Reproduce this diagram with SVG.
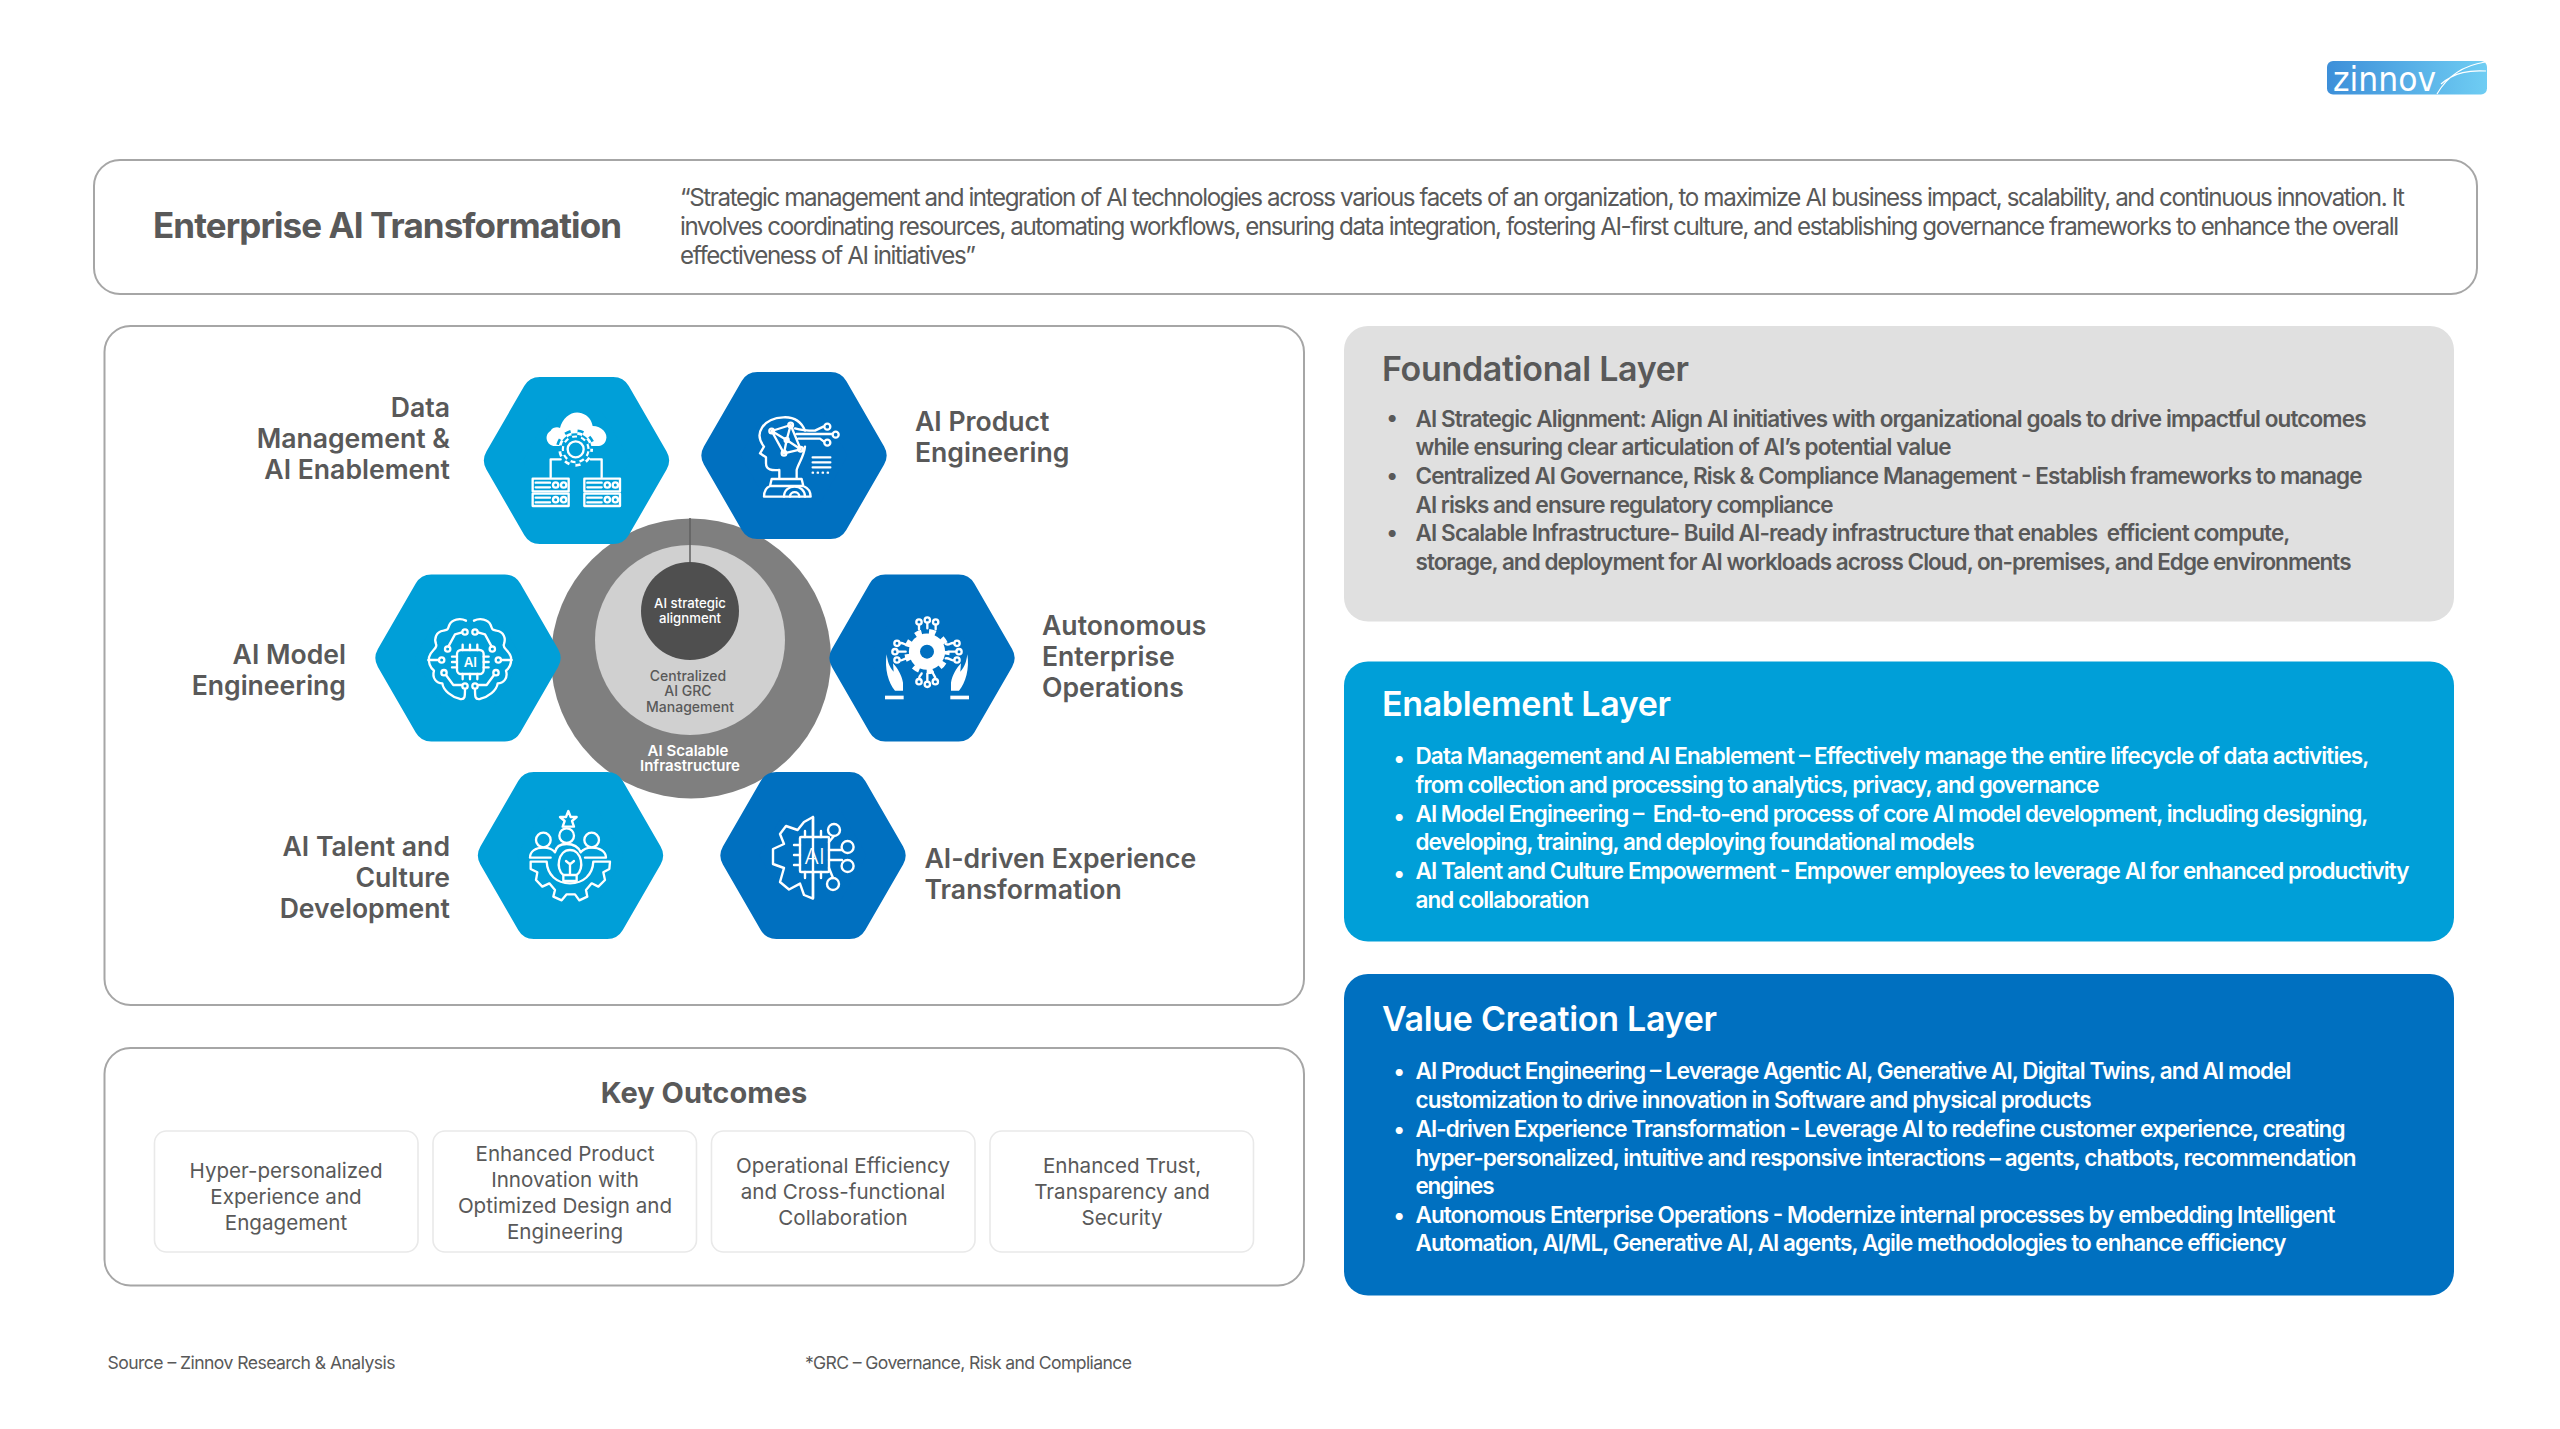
<svg xmlns="http://www.w3.org/2000/svg" width="2560" height="1429" viewBox="0 0 2560 1429">
<style>
text{font-family:Inter,"Liberation Sans",sans-serif;fill:#595959}
.box{fill:#fff;stroke:#a6a6a6;stroke-width:2}
.sub{fill:#fff;stroke:#e9e9e9;stroke-width:1.6}
.ttl{font-size:35px;font-weight:700}
.def{font-size:24.2px;font-weight:400}
.lbl{font-size:26.6px;font-weight:600}
.end{text-anchor:end}
.h{font-size:34px;font-weight:600}
.b{font-size:22.5px;font-weight:600}
.w{fill:#fff}
.o{font-size:20.6px;font-weight:400;text-anchor:middle}
.m{text-anchor:middle}
.f{font-size:17.6px}
.hl{fill:#009fd8;stroke:#009fd8}
.hd{fill:#0070c0;stroke:#0070c0}
.hexs{stroke-width:36;stroke-linejoin:round}
.i{fill:none;stroke:#fff;stroke-width:7;stroke-linecap:round;stroke-linejoin:round}
.fw{fill:#fff;stroke:none}
.ic{font-size:40px;font-weight:600;fill:#fff;text-anchor:middle}
</style>
<defs>
<polygon id="hex" points="-74.5,0 -36.7,-65.5 36.7,-65.5 74.5,0 36.7,65.5 -36.7,65.5"/>
<g id="gear"><circle r=".8" fill="currentColor"/><circle r=".88" fill="none" stroke="currentColor" stroke-width=".24" pathLength="8" stroke-dasharray=".46 .54" stroke-dashoffset=".23"/></g>
<linearGradient id="lg" x1="0" x2="1"><stop offset="0" stop-color="#3d8fd9"/><stop offset="1" stop-color="#6fcdf3"/></linearGradient>
<g id="brainHalf">
<path d="M168 62C150 53 125 58 118 75C112 90 115 88 100 92C78 96 72 115 78 132C85 145 62 150 57 172C55 188 60 202 72 212C65 235 80 250 97 250C100 272 125 290 150 297C165 300 165 290 165 268"/>
<circle cx="165" cy="96" r="8"/><path d="M156 97L135 103L115 140"/><circle cx="113" cy="147" r="8"/>
<path d="M55 180H85"/><circle cx="95" cy="180" r="8"/>
<circle cx="102" cy="218" r="8"/><path d="M108 225L130 255H155"/><circle cx="165" cy="258" r="8"/>
</g>
<g id="handNodes">
<path class="fw" d="M65 163C58 205 70 250 90 272H114V248C110 225 98 205 84 190L86 215C72 200 68 185 65 163Z"/>
<rect class="fw" x="60" y="287" width="56" height="11"/>
<circle cx="96" cy="130" r="8"/><path d="M104 130C115 125 118 138 130 132"/>
<circle cx="90" cy="155" r="8"/><path d="M98 155H122"/>
<circle cx="96" cy="180" r="8"/><path d="M104 180C115 185 118 172 130 175"/>
</g>
</defs>
<rect width="2560" height="1429" fill="#fff"/>

<g id="logo">
<rect x="2327" y="61" width="160" height="33.500" rx="6" fill="url(#lg)"/>
<text x="2333" y="91" font-size="33" style="font-family:'DejaVu Sans',sans-serif;font-weight:400;fill:#fff" textLength="103" lengthAdjust="spacingAndGlyphs">zinnov</text>
<path d="M2437 94C2445 80 2460 66 2485 62M2441 84C2455 72 2470 70 2486 71" fill="none" stroke="#fff" stroke-width="1.200"/>
</g>

<g id="header">
<rect class="box" x="94" y="160" width="2383" height="134" rx="26"/>
<text class="ttl" x="153" y="237.500" textLength="469">Enterprise AI Transformation</text>
<text class="def" x="680" y="205.500" textLength="1725">“Strategic management and integration of AI technologies across various facets of an organization, to maximize AI business impact, scalability, and continuous innovation. It</text>
<text class="def" x="680" y="234.500" textLength="1719">involves coordinating resources, automating workflows, ensuring data integration, fostering AI-first culture, and establishing governance frameworks to enhance the overall</text>
<text class="def" x="680" y="263.500" textLength="296">effectiveness of AI initiatives”</text>
</g>

<g id="framework-box"><rect class="box" x="104.500" y="326" width="1199.500" height="679" rx="26"/></g>

<g id="core">
<circle cx="691" cy="658.500" r="140" fill="#7f7f7f"/>
<circle cx="690" cy="640" r="95" fill="#d0d0d0"/>
<line x1="690" y1="518" x2="690" y2="563" stroke="#5f5f5f" stroke-width="1.500"/>
<circle cx="690" cy="611" r="49" fill="#4f4f4f"/>
<text class="m w" x="690" y="608" font-size="13.200" font-weight="500">AI strategic</text>
<text class="m w" x="690" y="623" font-size="13.200" font-weight="500">alignment</text>
<text class="m" x="688" y="680.500" font-size="14" font-weight="500">Centralized</text>
<text class="m" x="688" y="696" font-size="14" font-weight="500">AI GRC</text>
<text class="m" x="690" y="712" font-size="14" font-weight="500">Management</text>
<text class="m w" x="688" y="756" font-size="15" font-weight="600">AI Scalable</text>
<text class="m w" x="690" y="771" font-size="15" font-weight="600">Infrastructure</text>
</g>

<g id="node-data">
<use href="#hex" x="576.500" y="460.500" class="hl hexs"/>
<text class="lbl end" x="450" y="417">Data</text><text class="lbl end" x="450" y="448">Management &amp;</text><text class="lbl end" x="450" y="479">AI Enablement</text>
<g transform="translate(520 400) scale(.3333)" color="#009fd8">
<path class="fw" d="M105 138C80 138 70 105 92 92C98 82 112 80 120 84C128 50 160 30 185 40C205 46 215 62 218 78C245 78 265 100 258 120C254 132 245 138 232 138Z"/>
<use href="#gear" transform="translate(167 148) scale(60)"/>
<use href="#gear" transform="translate(167 148) scale(52)" color="#fff"/>
<use href="#gear" transform="translate(167 148) scale(44)"/>
<circle cx="167" cy="148" r="24" fill="none" stroke="#fff" stroke-width="7"/>
<path class="i" d="M122 178H92V232M212 178H245V232"/>
<g class="i" stroke-width="6"><rect x="38" y="236" width="108" height="38"/><rect x="38" y="281" width="108" height="37"/><rect x="193" y="236" width="107" height="38"/><rect x="193" y="281" width="107" height="37"/>
<path d="M47 248H90M47 262H90M47 293H90M47 307H90M202 248H245M202 262H245M202 293H245M202 307H245"/>
<circle cx="107" cy="255" r="8"/><circle cx="131" cy="255" r="8"/><circle cx="107" cy="299" r="8"/><circle cx="131" cy="299" r="8"/><circle cx="262" cy="255" r="8"/><circle cx="286" cy="255" r="8"/><circle cx="262" cy="299" r="8"/><circle cx="286" cy="299" r="8"/></g>
</g>
</g>

<g id="node-product">
<use href="#hex" x="794" y="455.500" class="hd hexs"/>
<text class="lbl" x="915" y="430.500">AI Product</text><text class="lbl" x="915" y="461.500">Engineering</text>
<g transform="translate(740 400) scale(.3333)"><g class="i">
<path d="M118 210C95 212 78 210 78 190V172L60 160L72 140C40 100 70 55 130 52C165 50 185 68 195 92M195 140C192 170 175 190 170 210V235M118 210V235"/>
<path d="M95 93L152 75L182 148L132 160ZM95 93L140 120L152 75M140 120L132 160M140 120L182 148M165 85C175 88 190 92 225 92L250 80M170 102H276M175 116H240L252 125"/>
<circle cx="95" cy="93" r="7"/><circle cx="152" cy="75" r="7"/><circle cx="140" cy="120" r="6"/><circle cx="132" cy="160" r="7"/><circle cx="182" cy="148" r="7"/>
<circle cx="262" cy="80" r="9"/><circle cx="287" cy="104" r="9"/><circle cx="262" cy="128" r="9"/>
<path d="M218 172H271M218 187H271M218 202H271"/><path d="M218 218H271" stroke-dasharray="1 14"/>
<path d="M95 237H185L190 258H90ZM72 290C72 275 78 263 90 258H190C202 263 212 275 212 290Z"/><path d="M132 290C132 250 195 250 195 290M150 290C150 272 178 272 178 290"/>
</g></g>
</g>

<g id="node-model">
<use href="#hex" x="468" y="658" class="hl hexs"/>
<text class="lbl end" x="346" y="663.500">AI Model</text><text class="lbl end" x="346" y="694.500">Engineering</text>
<g transform="translate(410 600) scale(.3333)"><g class="i">
<use href="#brainHalf"/><use href="#brainHalf" transform="translate(360 0) scale(-1 1)"/>
<rect x="141" y="150" width="80" height="72" rx="12"/>
<path d="M158 150V134M180 150V134M202 150V134M158 222V238M180 222V238M202 222V238M141 170H126M141 186H126M141 202H126M221 170H236M221 186H236M221 202H236"/>
</g><text class="ic" x="181" y="200">AI</text></g>
</g>

<g id="node-operations">
<use href="#hex" x="922" y="658" class="hd hexs"/>
<text class="lbl" x="1042" y="634.500">Autonomous</text><text class="lbl" x="1042" y="665.500">Enterprise</text><text class="lbl" x="1042" y="696.500">Operations</text>
<g transform="translate(865 600) scale(.3333)" color="#fff">
<use href="#gear" transform="translate(186 155) scale(68)"/>
<circle cx="186" cy="155" r="21" fill="#0070c0"/>
<g class="i"><use href="#handNodes"/><use href="#handNodes" transform="translate(372 0) scale(-1 1)"/>
<circle cx="162" cy="66" r="8"/><circle cx="187" cy="60" r="8"/><circle cx="212" cy="66" r="8"/><path d="M162 74V88M187 68V85M212 74V88"/>
<circle cx="162" cy="245" r="8"/><circle cx="187" cy="253" r="8"/><circle cx="211" cy="245" r="8"/><path d="M162 237C162 225 170 225 170 220M187 245V222M211 237C211 225 203 225 203 215"/>
</g></g>
</g>

<g id="node-talent">
<use href="#hex" x="570.500" y="855.500" class="hl hexs"/>
<text class="lbl end" x="450" y="855.500">AI Talent and</text><text class="lbl end" x="450" y="886.500">Culture</text><text class="lbl end" x="450" y="917.500">Development</text>
<g transform="translate(510 795) scale(.3333)"><g class="i">
<path d="M175 48L182 66H200L186 78L192 95H158L164 78L150 66H168Z"/>
<circle cx="100" cy="135" r="22"/><circle cx="170" cy="122" r="22"/><circle cx="245" cy="135" r="22"/>
<path d="M60 188C60 168 78 158 100 158C115 158 128 163 135 172M135 172C138 155 150 147 170 147C190 147 205 155 212 172M212 172C220 163 230 158 245 158C268 158 288 168 288 188H225M60 188H122"/>
<path d="M62 200L62 222L82 232L78 255L97 275L118 265L135 285L130 305L155 316L170 298H195L208 316L232 305L228 285L245 265L265 275L285 255L280 232L298 222L300 200H250C248 240 220 265 180 265C140 265 112 240 110 200Z"/>
<path d="M160 240C135 222 145 165 180 165C215 165 225 222 200 240ZM160 240V258H200V240M180 240V205M168 198L180 208L192 198"/>
</g></g>
</g>

<g id="node-experience">
<use href="#hex" x="813" y="855.500" class="hd hexs"/>
<text class="lbl" x="924.500" y="867.500">AI-driven Experience</text><text class="lbl" x="924.500" y="898.500">Transformation</text>
<g class="i" style="stroke-width:2.400">
<path d="M813 817L804 822L797.600 830L786 826L780 834L784 844L773 849V864L784 868L780 882L789 889.500L800 883.600L804 895L813 898.600Z"/>
<rect x="800" y="837" width="29" height="35" rx="1"/>
<path d="M805 837V831M813 837V817M821 837V831M805 872V878M813 872V898M821 872V878M800 845H794M800 855H794M800 865H794M829 842L834 836M829 850H842M829 860H842M829 868L833 878"/>
<circle cx="834" cy="830" r="6"/><circle cx="847.600" cy="847" r="6"/><circle cx="847.600" cy="866" r="6"/><circle cx="833" cy="884" r="6"/>
</g>
<text x="814.500" y="864" font-size="22" font-weight="300" class="w m">AI</text>
</g>

<g id="outcomes">
<rect class="box" x="104.500" y="1048" width="1199.500" height="237.500" rx="26"/>
<text class="m" x="704" y="1103" font-size="29" font-weight="700">Key Outcomes</text>
<g id="outcome-1"><rect class="sub" x="154.500" y="1131" width="263.500" height="121" rx="12"/>
<text class="o" x="286" y="1177.500">Hyper-personalized</text><text class="o" x="286" y="1203.500">Experience and</text><text class="o" x="286" y="1229.500">Engagement</text></g>
<g id="outcome-2"><rect class="sub" x="433" y="1131" width="263.500" height="121" rx="12"/>
<text class="o" x="565" y="1160.500">Enhanced Product</text><text class="o" x="565" y="1186.500">Innovation with</text><text class="o" x="565" y="1212.500">Optimized Design and</text><text class="o" x="565" y="1238.500">Engineering</text></g>
<g id="outcome-3"><rect class="sub" x="711.500" y="1131" width="263.500" height="121" rx="12"/>
<text class="o" x="843" y="1172.500">Operational Efficiency</text><text class="o" x="843" y="1198.500">and Cross-functional</text><text class="o" x="843" y="1224.500">Collaboration</text></g>
<g id="outcome-4"><rect class="sub" x="990" y="1131" width="263.500" height="121" rx="12"/>
<text class="o" x="1122" y="1172.500">Enhanced Trust,</text><text class="o" x="1122" y="1198.500">Transparency and</text><text class="o" x="1122" y="1224.500">Security</text></g>
</g>

<g id="foundational">
<rect x="1344" y="326" width="1110" height="295.500" rx="24" fill="#e0e0e0"/>
<g transform="translate(-.5 1.500)">
<text class="h" x="1382.500" y="379" textLength="307">Foundational Layer</text>
<text class="b" x="1387" y="423">•</text><text class="b" x="1387" y="481">•</text><text class="b" x="1387" y="538">•</text>
<text class="b" x="1416" y="425" textLength="951">AI Strategic Alignment: Align AI initiatives with organizational goals to drive impactful outcomes</text>
<text class="b" x="1416" y="453.500" textLength="536">while ensuring clear articulation of AI’s potential value</text>
<text class="b" x="1416" y="482" textLength="947">Centralized AI Governance, Risk &amp; Compliance Management - Establish frameworks to manage</text>
<text class="b" x="1416" y="511" textLength="418">AI risks and ensure regulatory compliance</text>
<text class="b" x="1416" y="539" xml:space="preserve" textLength="875">AI Scalable Infrastructure- Build AI-ready infrastructure that enables  efficient compute,</text>
<text class="b" x="1416" y="568" textLength="936">storage, and deployment for AI workloads across Cloud, on-premises, and Edge environments</text>
</g>
</g>

<g id="enablement">
<rect x="1344" y="661.500" width="1110" height="280" rx="24" fill="#009fd8"/>
<g transform="translate(-.5 1.500)">
<text class="h w" x="1382.500" y="714" textLength="289">Enablement Layer</text>
<text class="b w" x="1394" y="764">•</text><text class="b w" x="1394" y="822">•</text><text class="b w" x="1394" y="879">•</text>
<text class="b w" x="1416" y="762" textLength="954">Data Management and AI Enablement – Effectively manage the entire lifecycle of data activities,</text>
<text class="b w" x="1416" y="791" textLength="684">from collection and processing to analytics, privacy, and governance</text>
<text class="b w" x="1416" y="820" xml:space="preserve" textLength="953">AI Model Engineering –  End-to-end process of core AI model development, including designing,</text>
<text class="b w" x="1416" y="848" textLength="559">developing, training, and deploying foundational models</text>
<text class="b w" x="1416" y="877" textLength="994">AI Talent and Culture Empowerment - Empower employees to leverage AI for enhanced productivity</text>
<text class="b w" x="1416" y="906" textLength="174">and collaboration</text>
</g>
</g>

<g id="value">
<rect x="1344" y="974" width="1110" height="321.500" rx="24" fill="#0070c0"/>
<g transform="translate(-.5 1.500)">
<text class="h w" x="1382.500" y="1029" textLength="335">Value Creation Layer</text>
<text class="b w" x="1394" y="1077">•</text><text class="b w" x="1394" y="1135">•</text><text class="b w" x="1394" y="1221">•</text>
<text class="b w" x="1416" y="1077" textLength="876">AI Product Engineering – Leverage Agentic AI, Generative AI, Digital Twins, and AI model</text>
<text class="b w" x="1416" y="1106" textLength="676">customization to drive innovation in Software and physical products</text>
<text class="b w" x="1416" y="1135" textLength="930">AI-driven Experience Transformation - Leverage AI to redefine customer experience, creating</text>
<text class="b w" x="1416" y="1164" textLength="941">hyper-personalized, intuitive and responsive interactions – agents, chatbots, recommendation</text>
<text class="b w" x="1416" y="1192" textLength="79">engines</text>
<text class="b w" x="1416" y="1221" textLength="920">Autonomous Enterprise Operations - Modernize internal processes by embedding Intelligent</text>
<text class="b w" x="1416" y="1249" textLength="871">Automation, AI/ML, Generative AI, AI agents, Agile methodologies to enhance efficiency</text>
</g>
</g>

<g id="footer">
<text class="f" x="107.500" y="1368.500" textLength="288">Source – Zinnov Research &amp; Analysis</text>
<text class="f" x="805" y="1368.500" textLength="327">*GRC – Governance, Risk and Compliance</text>
</g>
</svg>
